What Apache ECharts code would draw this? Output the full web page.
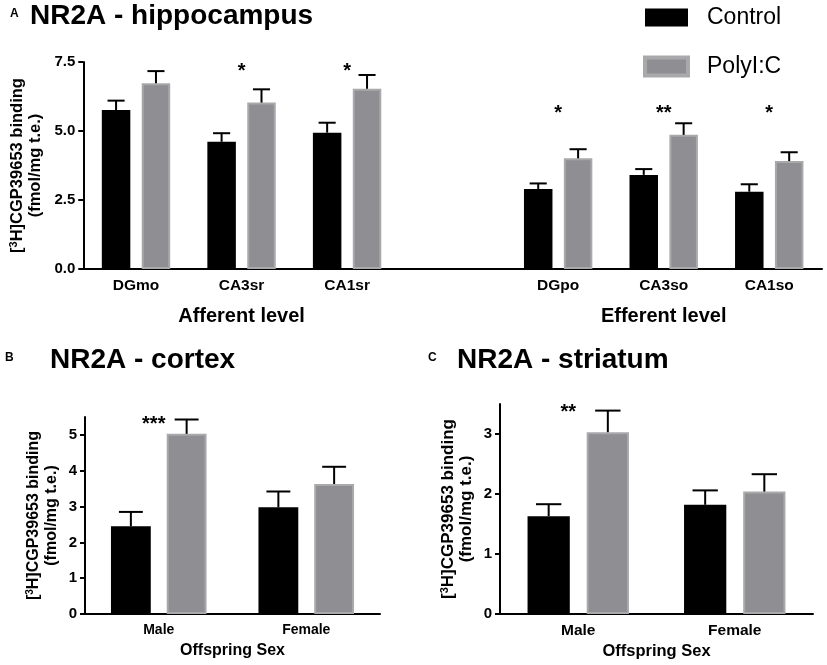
<!DOCTYPE html>
<html>
<head>
<meta charset="utf-8">
<title>NR2A binding</title>
<script src="https://cdn.jsdelivr.net/npm/echarts@6/dist/echarts.min.js"></script>
<style>
  html, body { margin: 0; padding: 0; background: #fff; }
  #chart { width: 827px; height: 665px; }
</style>
</head>
<body>
<div id="chart"></div>
<script>
// panel A - hippocampus (blank category splits afferent / efferent)
var hippoCats = ["DGmo", "CA3sr", "CA1sr", "", "DGpo", "CA3so", "CA1so"];
var hippoLevels = ["", "Afferent level", "", "", "", "Efferent level", ""];
var hippoControl = [5.76, 4.61, 4.94, null, 2.9, 3.41, 2.8];
var hippoControlErr = [0.34, 0.31, 0.36, null, 0.2, 0.21, 0.27];
var hippoPoly = [6.73, 6.03, 6.53, null, 4.01, 4.86, 3.91];
var hippoPolyErr = [0.44, 0.48, 0.5, null, 0.33, 0.42, 0.32];
var hippoStars = ["", "*", "*", "", "*", "**", "*"];
var hippoStarY = [null, 7.17, 7.17, null, 5.62, 5.62, 5.62];
var hippoTicks = [0, 2.5, 5, 7.5];

// panel B - cortex
var sexCats = ["Male", "Female"];
var cortexControl = [2.45, 2.98];
var cortexControlErr = [0.4, 0.44];
var cortexPoly = [5.03, 3.63];
var cortexPolyErr = [0.4, 0.48];
var cortexStars = ["***", ""];
var cortexStarY = [5.29, null];
var cortexTicks = [0, 1, 2, 3, 4, 5];

// panel C - striatum
var striatumControl = [1.63, 1.82];
var striatumControlErr = [0.2, 0.24];
var striatumPoly = [3.03, 2.04];
var striatumPolyErr = [0.36, 0.29];
var striatumStars = ["**", ""];
var striatumStarY = [3.36, null];
var striatumTicks = [0, 1, 2, 3];

var FONT = "'Liberation Sans', Arial, Helvetica, sans-serif";
var BAR_W = 0.27;   // share of the category band
var BAR_GAP = 0.4;  // share of a bar
var GRAY = "#8e8e93";
var GRAY_EDGE = "#a9a9ac";

function yNameRich(size) {
  return {
    n: { fontSize: size, fontWeight: "bold", fontFamily: FONT, color: "#000", lineHeight: 18 },
    s: { fontSize: Math.round(size * 0.65), fontWeight: "bold", fontFamily: FONT, color: "#000", lineHeight: 18, verticalAlign: "top", padding: [0, 0, 7, 0] }
  };
}
var yName = "{n|[}{s|3}{n|H]CGP39653 binding}\n{n|(fmol/mg t.e.)}";

function errorRender(params, api) {
  var cat = api.value(0);
  var val = api.value(1);
  var err = api.value(2);
  var side = api.value(3);
  var base = api.coord([cat, val]);
  var top = api.coord([cat, val + err]);
  var band = api.size([1, 0])[0];
  var x = base[0] + (side ? 1 : -1) * band * BAR_W * (1 + BAR_GAP) / 2;
  var half = band * BAR_W * 0.3;
  var st = { stroke: "#000", lineWidth: 2 };
  return {
    type: "group",
    children: [
      { type: "line", shape: { x1: x, y1: base[1], x2: x, y2: top[1] }, style: st },
      { type: "line", shape: { x1: x - half, y1: top[1], x2: x + half, y2: top[1] }, style: st }
    ]
  };
}

function errorData(ctrl, ctrlErr, poly, polyErr) {
  var out = [];
  for (var i = 0; i < ctrl.length; i++) {
    if (ctrl[i] == null) continue;
    out.push([i, ctrl[i], ctrlErr[i], 0]);
    out.push([i, poly[i], polyErr[i], 1]);
  }
  return out;
}

function starSeries(idx, labels, ys, dx) {
  var data = [];
  var texts = [];
  for (var i = 0; i < labels.length; i++) {
    if (!labels[i]) continue;
    data.push([i, ys[i]]);
    texts.push(labels[i]);
  }
  return {
    type: "custom",
    name: "sig" + idx,
    xAxisIndex: idx === 0 ? 0 : idx + 1,
    yAxisIndex: idx,
    z: 4,
    silent: true,
    data: data,
    renderItem: function (params, api) {
      var p = api.coord([api.value(0), api.value(1)]);
      return {
        type: "text",
        x: p[0] + dx,
        y: p[1],
        style: {
          text: texts[params.dataIndex],
          fontSize: 20,
          fontWeight: "bold",
          fontFamily: FONT,
          fill: "#000",
          align: "center",
          verticalAlign: "middle"
        }
      };
    }
  };
}

function barPair(xi, yi, ctrl, poly) {
  return [
    {
      name: "Control", type: "bar", xAxisIndex: xi, yAxisIndex: yi,
      data: ctrl, barWidth: BAR_W * 100 + "%", barGap: BAR_GAP * 100 + "%",
      itemStyle: { color: "#000" }
    },
    {
      name: "PolyI:C", type: "bar", xAxisIndex: xi, yAxisIndex: yi,
      data: poly, barWidth: BAR_W * 100 + "%", barGap: BAR_GAP * 100 + "%",
      itemStyle: { color: GRAY, borderColor: GRAY_EDGE, borderWidth: 2 }
    }
  ];
}

function xAxisOf(gi, cats, labelSize, name, nameSize) {
  return {
    type: "category", gridIndex: gi, data: cats,
    name: name || "", nameLocation: "middle", nameGap: 29,
    nameTextStyle: { fontSize: nameSize || 16, fontWeight: "bold", fontFamily: FONT, color: "#000" },
    axisLine: { lineStyle: { color: "#000", width: 2 } },
    axisTick: { alignWithLabel: true, length: 5, lineStyle: { color: "#000", width: 2 } },
    axisLabel: { interval: 0, margin: 9, fontSize: labelSize, fontWeight: "bold", fontFamily: FONT, color: "#000" },
    splitLine: { show: false }
  };
}

function yAxisOf(gi, max, ticks, gap, nameSize, fmt) {
  return {
    type: "value", gridIndex: gi, min: 0, max: max,
    name: yName, nameLocation: "middle", nameRotate: 90, nameGap: gap,
    nameTextStyle: { rich: yNameRich(nameSize) },
    axisLine: { show: true, lineStyle: { color: "#000", width: 2 } },
    axisTick: { show: true, length: 5, customValues: ticks, lineStyle: { color: "#000", width: 2 } },
    axisLabel: {
      margin: 8, fontSize: 15, fontWeight: "bold", fontFamily: FONT, color: "#000",
      customValues: ticks, formatter: fmt
    },
    splitLine: { show: false }
  };
}

var chart = echarts.init(document.getElementById("chart"), null, { renderer: "canvas" });

var titleStyle = { fontSize: 28, fontWeight: "bold", fontFamily: FONT, color: "#000" };
var letterStyle = { fontSize: 12, fontWeight: "bold", fontFamily: FONT, color: "#000" };

var option = {
  backgroundColor: "#fff",
  animation: false,
  title: [
    { text: "A", left: 10, top: 8, padding: 0, textStyle: letterStyle },
    { text: "NR2A - hippocampus", left: 30, top: 2, padding: 0, textStyle: titleStyle },
    { text: "B", left: 5, top: 352, padding: 0, textStyle: letterStyle },
    { text: "NR2A - cortex", left: 50, top: 346, padding: 0, textStyle: titleStyle },
    { text: "C", left: 428, top: 352, padding: 0, textStyle: letterStyle },
    { text: "NR2A - striatum", left: 457, top: 346, padding: 0, textStyle: titleStyle }
  ],
  legend: {
    data: [
      { name: "Control" },
      { name: "PolyI:C", itemStyle: { color: GRAY, borderColor: GRAY_EDGE, borderWidth: 4 } }
    ],
    orient: "vertical", left: 643, top: 6, padding: 0,
    itemWidth: 43, itemHeight: 18, itemGap: 26, icon: "rect",
    selectedMode: false,
    textStyle: { fontSize: 23, fontFamily: FONT, color: "#000", padding: [0, 0, 0, 14] }
  },
  grid: [
    { left: 80, top: 62, width: 742, height: 207 },
    { left: 85, top: 417, width: 295, height: 197 },
    { left: 500, top: 404, width: 313, height: 210 }
  ],
  xAxis: [
    xAxisOf(0, hippoCats, 15.5),
    {
      type: "category", gridIndex: 0, data: hippoLevels, position: "bottom", offset: 30,
      axisLine: { show: false }, axisTick: { show: false }, splitLine: { show: false },
      axisLabel: { interval: 0, margin: 7, fontSize: 20, fontWeight: "bold", fontFamily: FONT, color: "#000" }
    },
    xAxisOf(1, sexCats, 14, "Offspring Sex", 16),
    xAxisOf(2, sexCats, 15.5, "Offspring Sex", 16.5)
  ],
  yAxis: [
    yAxisOf(0, 7.5, hippoTicks, 38, 16.5, function (v) { return v.toFixed(1); }),
    yAxisOf(1, 5.5, cortexTicks, 24, 16, function (v) { return String(v); }),
    yAxisOf(2, 3.5, striatumTicks, 25, 17, function (v) { return String(v); })
  ],
  series: [].concat(
    barPair(0, 0, hippoControl, hippoPoly),
    barPair(2, 1, cortexControl, cortexPoly),
    barPair(3, 2, striatumControl, striatumPoly),
    [
      { type: "custom", name: "errA", xAxisIndex: 0, yAxisIndex: 0, z: 3, silent: true,
        renderItem: errorRender, data: errorData(hippoControl, hippoControlErr, hippoPoly, hippoPolyErr) },
      { type: "custom", name: "errB", xAxisIndex: 2, yAxisIndex: 1, z: 3, silent: true,
        renderItem: errorRender, data: errorData(cortexControl, cortexControlErr, cortexPoly, cortexPolyErr) },
      { type: "custom", name: "errC", xAxisIndex: 3, yAxisIndex: 2, z: 3, silent: true,
        renderItem: errorRender, data: errorData(striatumControl, striatumControlErr, striatumPoly, striatumPolyErr) },
      starSeries(0, hippoStars, hippoStarY, 0),
      starSeries(1, cortexStars, cortexStarY, -5),
      starSeries(2, striatumStars, striatumStarY, -10)
    ]
  )
};

chart.setOption(option);
</script>
</body>
</html>
